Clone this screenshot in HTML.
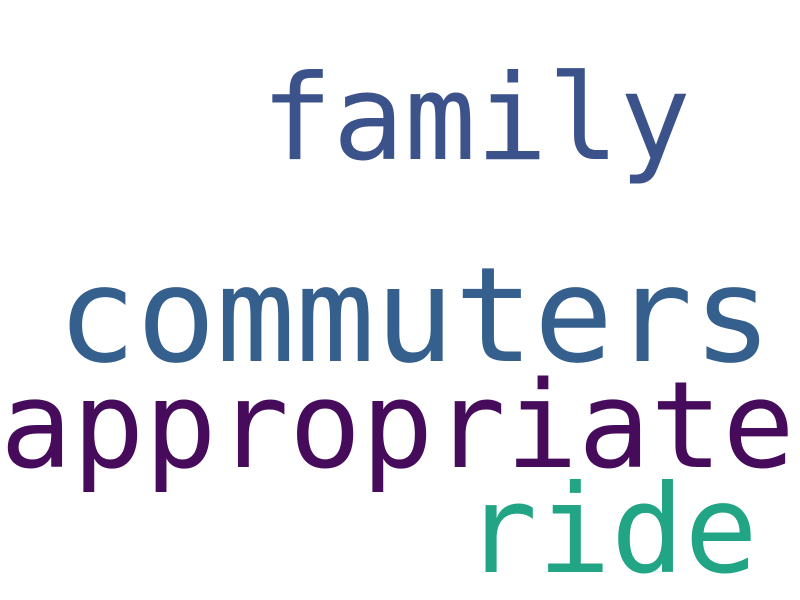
<!DOCTYPE html>
<html><head><meta charset="utf-8"><style>html,body{margin:0;padding:0;background:#fff;width:800px;height:600px;overflow:hidden}</style></head>
<body>
<svg width="800" height="600" xmlns="http://www.w3.org/2000/svg" style="display:block">
<rect width="800" height="600" fill="#fff"/>
<g font-family="'DejaVu Sans Mono', 'Liberation Mono', monospace">
<text x="261" y="159" font-size="119" fill="#3b528b">family</text>
<text x="57" y="361" font-size="132" fill="#355f8d">commuters</text>
<text x="0" y="467" font-size="120" fill="#470b5c">appropriate</text>
<text x="464" y="572" font-size="122" fill="#21a585">ride</text>
</g>
</svg>
</body></html>
